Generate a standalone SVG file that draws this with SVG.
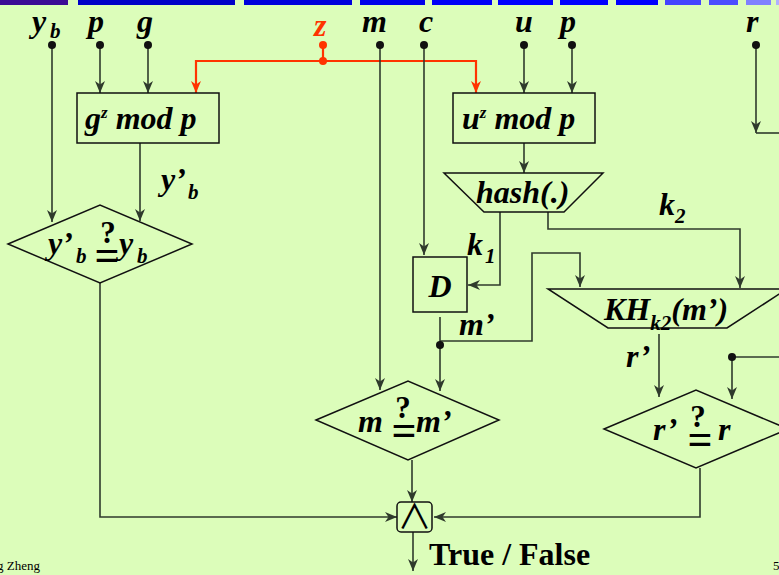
<svg xmlns="http://www.w3.org/2000/svg" width="779" height="575" viewBox="0 0 779 575">
<defs>
<style>
.sh{fill:none;stroke:#111;stroke-width:1.5}
.c{fill:none;stroke:#2f3a2c;stroke-width:1.6}
.cr{fill:none;stroke:#ff3300;stroke-width:2.2}
.dot{fill:#111}
.dr{fill:#ff3300}
.t{font-family:"Liberation Serif","Times New Roman",serif;font-weight:bold;font-style:italic;font-size:32px;fill:#000}
.s{font-size:21px}
.sp{font-size:17px}
.q{font-family:"Liberation Serif","Times New Roman",serif;font-weight:bold;font-size:31px;text-anchor:middle;fill:#000}
.eq{font-size:44px}
.ft{font-family:"Liberation Serif","Times New Roman",serif;font-size:13px;fill:#000}
</style>
<marker id="ah" markerUnits="userSpaceOnUse" markerWidth="14" markerHeight="12" refX="12" refY="5" orient="auto"><path d="M0,0 L12,5 L0,10 L3.5,5 Z" fill="#2f3a2c"/></marker>
<marker id="ahr" markerUnits="userSpaceOnUse" markerWidth="14" markerHeight="12" refX="12" refY="5" orient="auto"><path d="M0,0 L12,5 L0,10 L3.5,5 Z" fill="#ff3300"/></marker>
</defs>
<rect x="0" y="0" width="779" height="575" fill="#dcfdba"/>
<g id="topbar">
<rect x="0" y="0" width="68" height="5" fill="#3c0a96"/>
<rect x="78" y="0" width="157" height="5" fill="#0000c8"/>
<rect x="244" y="0" width="108" height="5" fill="#0000dc"/>
<rect x="360" y="0" width="65" height="5" fill="#0000ea"/>
<rect x="432" y="0" width="60" height="5" fill="#0000f8"/>
<rect x="498" y="0" width="55" height="5" fill="#0000ff"/>
<rect x="560" y="0" width="48" height="5" fill="#0000ff"/>
<rect x="616" y="0" width="42" height="5" fill="#0000ff"/>
<rect x="665" y="0" width="36" height="5" fill="#4444ff"/>
<rect x="709" y="0" width="29" height="5" fill="#4c4cff"/>
<rect x="746" y="0" width="25" height="5" fill="#8080ff"/>
<rect x="776" y="0" width="3" height="5" fill="#b0b0ff"/>
</g>
<g id="connectors">
<path class="c" d="M52,45 V222" marker-end="url(#ah)"/>
<path class="c" d="M100,45 V93" marker-end="url(#ah)"/>
<path class="c" d="M148,45 V93" marker-end="url(#ah)"/>
<path class="cr" d="M323,45 V61"/>
<path class="cr" d="M323,61 H196 V93" marker-end="url(#ahr)"/>
<path class="cr" d="M323,61 H476 V93" marker-end="url(#ahr)"/>
<path class="c" d="M380,45 V390" marker-end="url(#ah)"/>
<path class="c" d="M424,45 V255" marker-end="url(#ah)"/>
<path class="c" d="M524,45 V93" marker-end="url(#ah)"/>
<path class="c" d="M572,45 V93" marker-end="url(#ah)"/>
<path class="c" d="M756,45 V133" marker-end="url(#ah)"/>
<path class="c" d="M756,133 H780"/>
<path class="c" d="M140,143 V221" marker-end="url(#ah)"/>
<path class="c" d="M100,283 V517 H397" marker-end="url(#ah)"/>
<path class="c" d="M524,143 V173" marker-end="url(#ah)"/>
<path class="c" d="M500,212 V285 H468" marker-end="url(#ah)"/>
<path class="c" d="M548,212 V229 H740 V288" marker-end="url(#ah)"/>
<path class="c" d="M440,317 V391" marker-end="url(#ah)"/>
<path class="c" d="M440,341 H532 V253 H580 V287" marker-end="url(#ah)"/>
<path class="c" d="M659,334 V397" marker-end="url(#ah)"/>
<path class="c" d="M732,357 H780"/>
<path class="c" d="M732,357 V399" marker-end="url(#ah)"/>
<path class="c" d="M700,468 V517 H434" marker-end="url(#ah)"/>
<path class="c" d="M412,460 V502" marker-end="url(#ah)"/>
<path class="c" d="M413,532 V571" marker-end="url(#ah)"/>
<circle class="dot" cx="440" cy="345" r="4"/>
<circle class="dot" cx="732" cy="357" r="4"/>
<circle class="dr" cx="323" cy="61" r="4"/>
</g>
<g id="in-yb"><circle class="dot" cx="52" cy="45" r="4"/><text class="t" x="32" y="32">y</text><text class="t s" x="50" y="38">b</text></g>
<g id="in-p1"><circle class="dot" cx="100" cy="45" r="4"/><text class="t" x="88" y="32">p</text></g>
<g id="in-g"><circle class="dot" cx="148" cy="45" r="4"/><text class="t" x="137" y="32">g</text></g>
<g id="in-z"><circle class="dr" cx="323" cy="45" r="4"/><text class="t" x="314" y="36" style="fill:#ff3300">z</text></g>
<g id="in-m"><circle class="dot" cx="380" cy="45" r="4"/><text class="t" x="362" y="32">m</text></g>
<g id="in-c"><circle class="dot" cx="424" cy="45" r="4"/><text class="t" x="419" y="32">c</text></g>
<g id="in-u"><circle class="dot" cx="524" cy="45" r="4"/><text class="t" x="515" y="32">u</text></g>
<g id="in-p2"><circle class="dot" cx="572" cy="45" r="4"/><text class="t" x="560" y="32">p</text></g>
<g id="in-r"><circle class="dot" cx="756" cy="45" r="4"/><text class="t" x="746" y="32">r</text></g>
<g id="gz-box"><rect class="sh" x="77" y="93" width="142" height="50"/><text class="t" x="85" y="129">g<tspan class="sp" dy="-11">z</tspan><tspan dy="11"> mod p</tspan></text></g>
<g id="uz-box"><rect class="sh" x="453" y="93" width="142" height="50"/><text class="t" x="462" y="129">u<tspan class="sp" dy="-11">z</tspan><tspan dy="11"> mod p</tspan></text></g>
<g id="lbl-ypb"><text class="t" x="161" y="190">y’</text><text class="t s" x="188" y="199">b</text></g>
<g id="cmp-yb"><polygon class="sh" points="8,244 100,205 192,244 100,283"/>
<text class="t" x="48" y="254">y’</text><text class="t s" x="76" y="263">b</text>
<text class="q"><tspan x="108" y="243">?</tspan><tspan class="eq" x="107" y="270">=</tspan></text>
<text class="t" x="119" y="254">y</text><text class="t s" x="137" y="263">b</text></g>
<g id="hash"><polygon class="sh" points="444,173 603,173 564,212 484,212"/><text class="t" x="476" y="203">hash(.)</text></g>
<g id="lbl-k1"><text class="t" x="467" y="255">k</text><text class="t s" x="485" y="263">1</text></g>
<g id="lbl-k2"><text class="t" x="659" y="215">k</text><text class="t s" x="675" y="223">2</text></g>
<g id="D"><rect class="sh" x="413" y="257" width="54" height="55"/><text class="t" x="440" y="297" text-anchor="middle">D</text></g>
<g id="lbl-mp"><text class="t" x="459" y="335">m’</text></g>
<g id="KH"><polygon class="sh" points="548,289 787,289 727,328 608,328"/><text class="t" x="604" y="320">KH<tspan class="s" dy="10">k2</tspan><tspan dy="-10">(m’)</tspan></text></g>
<g id="lbl-rp"><text class="t" x="626" y="367">r’</text></g>
<g id="cmp-m"><polygon class="sh" points="316,420 408,381 499,420 408,460"/>
<text class="t" x="358" y="432">m</text><text class="q"><tspan x="403" y="418">?</tspan><tspan class="eq" x="404" y="445">=</tspan></text><text class="t" x="416" y="432">m’</text></g>
<g id="cmp-r"><polygon class="sh" points="604,429 696,390 788,429 696,468"/>
<text class="t" x="653" y="440">r’</text><text class="q"><tspan x="698" y="427">?</tspan><tspan class="eq" x="700" y="454">=</tspan></text><text class="t" x="718" y="440">r</text></g>
<g id="and"><rect class="sh" x="397" y="502" width="35" height="30" rx="4"/><text x="414.5" y="529" font-family="Noto Sans CJK JP, DejaVu Sans, sans-serif" font-size="34" text-anchor="middle">∧</text></g>
<g id="out"><text x="429" y="565" font-family="Liberation Serif, Times New Roman, serif" font-weight="bold" font-size="32">True / False</text></g>
<g id="footer"><text class="ft" x="-3" y="570">g Zheng</text><text class="ft" x="773" y="570">5</text></g>
</svg>
